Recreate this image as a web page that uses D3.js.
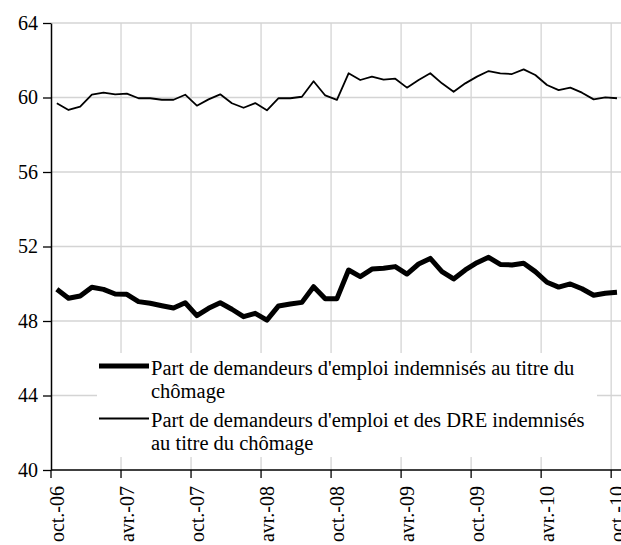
<!DOCTYPE html>
<html>
<head>
<meta charset="utf-8">
<script src="https://cdn.jsdelivr.net/npm/d3@7"></script>
<style>
  body { margin: 0; background: #fff; }
  text { font-family: "Liberation Serif", "Times New Roman", serif; fill: #000; }
</style>
</head>
<body>
<div id="chart"></div>
<script>
// monthly data, oct-06 .. oct-10
var months = d3.timeMonth.range(new Date(2006, 9, 1), new Date(2010, 10, 1));
var tickLabels = ["oct.-06", "avr.-07", "oct.-07", "avr.-08", "oct.-08", "avr.-09", "oct.-09", "avr.-10", "oct.-10"];
var yTicks = [40, 44, 48, 52, 56, 60, 64];

var indemnises = [49.7, 49.22, 49.34, 49.81, 49.7, 49.45, 49.43, 49.04, 48.95, 48.82,
  48.7, 48.98, 48.29, 48.68, 48.98, 48.63, 48.23, 48.41, 48.05, 48.81,
  48.91, 49.0, 49.84, 49.2, 49.2, 50.74, 50.38, 50.79, 50.83, 50.92,
  50.52, 51.06, 51.36, 50.65, 50.26, 50.74, 51.13, 51.42, 51.04, 51.01,
  51.1, 50.65, 50.08, 49.82, 49.99, 49.73, 49.38, 49.49, 49.54];
var indemnisesDRE = [59.69, 59.33, 59.51, 60.15, 60.26, 60.17, 60.21, 59.96, 59.96, 59.88,
  59.88, 60.15, 59.56, 59.9, 60.17, 59.69, 59.45, 59.7, 59.31, 59.96,
  59.96, 60.04, 60.87, 60.11, 59.87, 61.3, 60.94, 61.12, 60.96, 61.01,
  60.53, 60.94, 61.3, 60.76, 60.31, 60.76, 61.12, 61.42, 61.3, 61.26,
  61.51, 61.21, 60.67, 60.4, 60.53, 60.26, 59.9, 60.01, 59.96];

var legendLabels = [
  ["Part de demandeurs d'emploi indemnisés au titre du", "chômage"],
  ["Part de demandeurs d'emploi et des DRE indemnisés", "au titre du chômage"]
];

var W = 621, H = 545;
var plotLeft = 51, plotTop = 23, plotBottom = 470;
var step = 11.67;

var svg = d3.select("#chart").append("svg")
    .attr("width", W)
    .attr("height", H);

var x = d3.scaleBand()
    .domain(d3.range(months.length))
    .range([plotLeft, plotLeft + months.length * step])
    .padding(0);

var y = d3.scaleLinear()
    .domain([40, 64])
    .range([plotBottom, plotTop]);

// gridlines
var tickIdx = d3.range(0, months.length, 6);
svg.append("g").selectAll("line")
    .data(yTicks.filter(function(d) { return d > 40; }))
    .join("line")
    .attr("x1", plotLeft).attr("x2", W)
    .attr("y1", function(d) { return y(d); })
    .attr("y2", function(d) { return y(d); })
    .attr("stroke", "#d4d4d4")
    .attr("stroke-width", 1.3);
svg.append("g").selectAll("line")
    .data(tickIdx.slice(1))
    .join("line")
    .attr("x1", function(d) { return x(d); })
    .attr("x2", function(d) { return x(d); })
    .attr("y1", plotTop).attr("y2", plotBottom)
    .attr("stroke", "#d4d4d4")
    .attr("stroke-width", 1.3);

// lines
var line = d3.line()
    .x(function(d, i) { return x(i) + x.bandwidth() / 2; })
    .y(function(d) { return y(d); });

svg.append("path")
    .datum(indemnisesDRE)
    .attr("fill", "none")
    .attr("stroke", "#000")
    .attr("stroke-width", 1.8)
    .attr("stroke-linejoin", "round")
    .attr("d", line);

svg.append("path")
    .datum(indemnises)
    .attr("fill", "none")
    .attr("stroke", "#000")
    .attr("stroke-width", 5)
    .attr("stroke-linejoin", "round")
    .attr("d", line);

// Y axis
var yAxis = svg.append("g")
    .attr("transform", "translate(" + plotLeft + ",0)")
    .call(d3.axisLeft(y).tickValues(yTicks).tickSize(8).tickPadding(5).tickSizeOuter(0));
yAxis.select(".domain").attr("stroke", "#000").attr("stroke-width", 1.5);
yAxis.selectAll(".tick line").attr("stroke", "#000").attr("stroke-width", 1.3);
yAxis.selectAll("text")
    .style("font-family", "Liberation Serif")
    .style("font-size", "20px")
    .attr("fill", "#000");

// X axis: ticks at band starts every 6 months, labels at band centres
var xg = svg.append("g");
xg.append("line")
    .attr("x1", plotLeft).attr("x2", W)
    .attr("y1", plotBottom).attr("y2", plotBottom)
    .attr("stroke", "#000").attr("stroke-width", 1.5);
xg.selectAll(".xt")
    .data(tickIdx)
    .join("line")
    .attr("class", "xt")
    .attr("x1", function(d) { return x(d); })
    .attr("x2", function(d) { return x(d); })
    .attr("y1", plotBottom).attr("y2", plotBottom + 8)
    .attr("stroke", "#000").attr("stroke-width", 1.3);
xg.selectAll(".xl")
    .data(tickIdx)
    .join("text")
    .attr("class", "xl")
    .attr("transform", function(d) {
      return "translate(" + (x(d) + x.bandwidth() / 2) + "," + (plotBottom + 16) + ") rotate(-90)";
    })
    .attr("text-anchor", "end")
    .attr("dy", "0.35em")
    .style("font-size", "20px")
    .text(function(d, i) { return tickLabels[i]; });

// legend
var lg = svg.append("g");
lg.append("rect")
    .attr("x", 97).attr("y", 353)
    .attr("width", 500).attr("height", 104)
    .attr("fill", "#fff");
var legendY = [366, 418.5];
var widths = [5, 2];
legendLabels.forEach(function(lines, k) {
  lg.append("line")
    .attr("x1", 99).attr("x2", 149)
    .attr("y1", legendY[k]).attr("y2", legendY[k])
    .attr("stroke", "#000")
    .attr("stroke-width", widths[k]);
  lines.forEach(function(t, j) {
    lg.append("text")
      .attr("x", 151)
      .attr("y", legendY[k] + 8.5 + j * 23)
      .style("font-size", "20.5px")
      .text(t);
  });
});
</script>
</body>
</html>
